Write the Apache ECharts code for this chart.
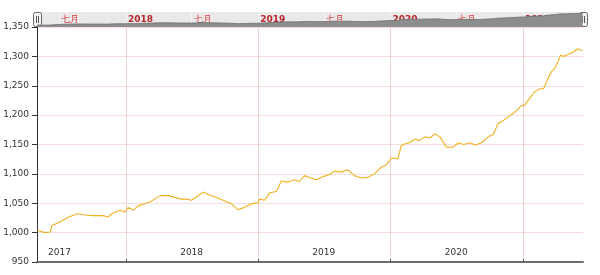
<!DOCTYPE html>
<html><head><meta charset="utf-8">
<script src="https://cdn.jsdelivr.net/npm/echarts@6/dist/echarts.min.js"></script>
<style>html,body{margin:0;padding:0;background:#fff}#c{width:600px;height:275px}</style>
</head><body><div id="c"></div>
<script>
const dates = ['2017-05-01','2017-05-22','2017-06-05','2017-06-10','2017-06-28','2017-07-26','2017-08-18','2017-09-10','2017-10-03','2017-10-26','2017-11-13','2017-11-27','2017-12-15','2017-12-29',
'2018-01-07','2018-01-21','2018-02-04','2018-02-22','2018-03-13','2018-04-05','2018-04-28','2018-05-16','2018-06-03','2018-06-17','2018-07-01','2018-07-15','2018-08-02','2018-08-16','2018-09-03','2018-09-26','2018-10-19','2018-11-06','2018-11-24','2018-12-13',
'2019-01-01','2019-01-05','2019-01-19','2019-02-02','2019-02-20','2019-03-06','2019-03-24','2019-04-11','2019-04-25','2019-05-09','2019-05-23','2019-06-10','2019-06-28','2019-07-17','2019-07-31','2019-08-18','2019-09-05','2019-09-24','2019-10-12','2019-10-30','2019-11-04','2019-11-18','2019-12-06','2019-12-20',
'2020-01-04','2020-01-22','2020-01-31','2020-02-09','2020-02-23','2020-03-08','2020-03-22','2020-04-05','2020-04-19','2020-05-03','2020-05-17','2020-05-31','2020-06-05','2020-06-23','2020-07-07','2020-07-21','2020-08-08','2020-08-22','2020-09-09','2020-09-27','2020-10-11','2020-10-25','2020-11-08','2020-11-22','2020-12-01','2020-12-15','2020-12-28',
'2021-01-06','2021-01-20','2021-02-03','2021-02-17','2021-02-27','2021-03-12','2021-03-21','2021-03-30','2021-04-08','2021-04-15','2021-04-24','2021-05-05','2021-05-19','2021-06-02','2021-06-09','2021-06-15'];
const values = [1004,1000,1001,1012,1017,1026,1032,1030,1029,1029,1027,1034,1038,1035,
1043,1038,1046,1049,1054,1063,1063,1060,1057,1057,1055,1061,1069,1065,1061,1055,1049,1039,1043,1049,
1051,1057,1055,1068,1070,1088,1086,1090,1087,1097,1094,1090,1095,1099,1105,1103,1107,1097,1093,1094,1093,1100,1111,1115,
1127,1126,1148,1151,1153,1159,1157,1163,1161,1168,1163,1149,1145,1146,1153,1150,1153,1149,1153,1163,1167,1186,1191,1197,1201,1208,1216,
1217,1229,1240,1245,1245,1263,1274,1280,1291,1302,1300,1303,1307,1313,1311,1310];
const yMin = 950, yMax = 1350, yStep = 50;
const xStart = '2017-04-30', xEnd = '2021-06-16';
const yearTickDates = ['2018-01-01','2019-01-01','2020-01-01','2021-01-01'];
const yearLabelDates = ['2017-07-01','2018-07-01','2019-07-01','2020-07-01'];
const navLabelDates = ['2017-07-01','2018-01-01','2018-07-01','2019-01-01','2019-07-01','2020-01-01','2020-07-01','2021-01-01'];
const navMonthLabel = '七月';

function ts(s){const p=s.split('-').map(Number);return new Date(p[0],p[1]-1,p[2]).getTime();}
const seriesData = dates.map((d,i)=>[ts(d),values[i]]);
const FONT = 'DejaVu Sans';

const chart = echarts.init(document.getElementById('c'), null, {renderer:'canvas'});
chart.setOption({
  animation:false,
  backgroundColor:'#fff',
  grid:[
    {left:37,right:17,top:27,bottom:13,containLabel:false},
    {left:37,right:17,top:12,height:15,show:true,backgroundColor:'#e9e9e9',borderColor:'#d8d8d8',borderWidth:0}
  ],
  xAxis:[
    {type:'value',gridIndex:0,min:ts(xStart),max:ts(xEnd),
     axisLine:{show:true,lineStyle:{color:'#6e6e6e',width:2}},
     axisTick:{show:true,inside:true,length:3,customValues:yearTickDates.map(ts),lineStyle:{color:'#555'}},
     splitLine:{show:true,lineStyle:{color:'#f2cfcf',width:1}},
     axisLabel:{inside:true,margin:5,customValues:yearLabelDates.map(ts),color:'#333',fontFamily:FONT,fontSize:9,
       formatter:v=>String(new Date(v).getFullYear())}
    },
    {type:'value',gridIndex:1,min:ts(xStart),max:ts(xEnd),position:'top',
     axisLine:{show:false},
     axisTick:{show:false,customValues:navLabelDates.map(ts)},
     splitLine:{show:true,lineStyle:{color:'#f4f4f4',width:1}},
     axisLabel:{inside:true,margin:3,align:'left',padding:[0,0,0,2],customValues:navLabelDates.map(ts),
       formatter:v=>{const d=new Date(v);return d.getMonth()===0?'{b|'+d.getFullYear()+'}':'{a|'+navMonthLabel+'}';},
       rich:{a:{color:'#d9393a',fontFamily:FONT,fontSize:9},b:{color:'#b8262b',fontFamily:FONT,fontSize:9,fontWeight:'bold'}}}
    }
  ],
  yAxis:[
    {type:'value',gridIndex:0,min:yMin,max:yMax,interval:yStep,
     axisLine:{show:true,lineStyle:{color:'#333',width:1}},
     axisTick:{show:true,length:5,lineStyle:{color:'#333'}},
     splitLine:{show:true,lineStyle:{color:'#f5dddd',width:1}},
     axisLabel:{margin:8,color:'#333',fontFamily:FONT,fontSize:9,
       formatter:v=>v.toLocaleString('en-US')}
    },
    {type:'value',gridIndex:1,min:yMin,max:yMax,show:false}
  ],
  series:[
    {type:'line',xAxisIndex:0,yAxisIndex:0,data:seriesData,showSymbol:false,symbol:'none',
     lineStyle:{color:'#f0b020',width:1.1},z:5},
    {type:'line',xAxisIndex:1,yAxisIndex:1,data:seriesData,showSymbol:false,symbol:'none',
     lineStyle:{color:'#6f6f6f',width:0.8},areaStyle:{color:'#8d8d8d',opacity:1},z:2}
  ],
  graphic:[
    {type:'group',left:33,top:12,children:[
      {type:'rect',shape:{x:0,y:0,width:8,height:14,r:2},style:{fill:'#f4f4f4',stroke:'#666',lineWidth:1}},
      {type:'line',shape:{x1:3,y1:3.5,x2:3,y2:10.5},style:{stroke:'#555',lineWidth:1}},
      {type:'line',shape:{x1:5,y1:3.5,x2:5,y2:10.5},style:{stroke:'#555',lineWidth:1}}
    ]},
    {type:'group',left:579,top:12,children:[
      {type:'rect',shape:{x:0,y:0,width:8,height:14,r:2},style:{fill:'#f4f4f4',stroke:'#666',lineWidth:1}},
      {type:'line',shape:{x1:3,y1:3.5,x2:3,y2:10.5},style:{stroke:'#555',lineWidth:1}},
      {type:'line',shape:{x1:5,y1:3.5,x2:5,y2:10.5},style:{stroke:'#555',lineWidth:1}}
    ]}
  ]
});
</script></body></html>
